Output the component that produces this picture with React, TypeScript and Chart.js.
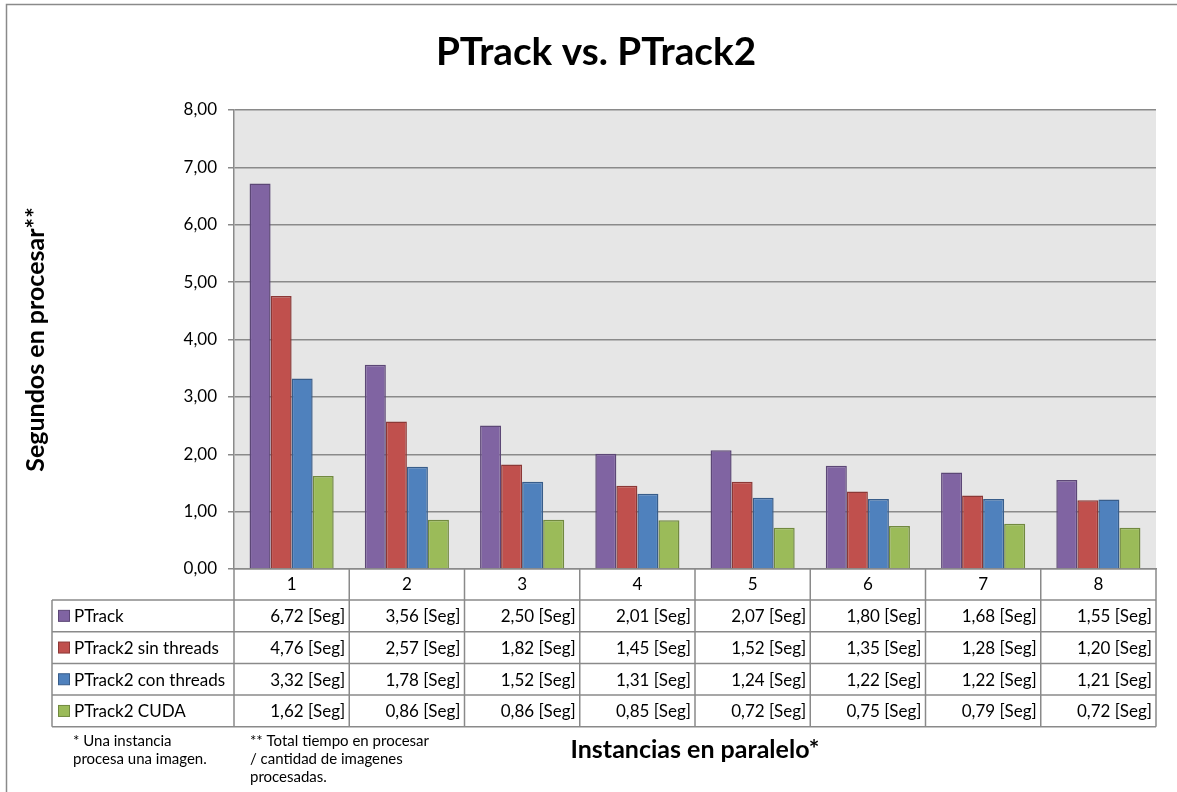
import { useEffect, useRef } from "react";
import { Chart, registerables } from "chart.js";

Chart.register(...registerables);

const categories = ["1", "2", "3", "4", "5", "6", "7", "8"];
const seriesNames = ["PTrack", "PTrack2 sin threads", "PTrack2 con threads", "PTrack2 CUDA"];
const ptrack = [6.72, 3.56, 2.5, 2.01, 2.07, 1.8, 1.68, 1.55];
const sinThreads = [4.76, 2.57, 1.82, 1.45, 1.52, 1.35, 1.28, 1.2];
const conThreads = [3.32, 1.78, 1.52, 1.31, 1.24, 1.22, 1.22, 1.21];
const cuda = [1.62, 0.86, 0.86, 0.85, 0.72, 0.75, 0.79, 0.72];
const seriesValues = [ptrack, sinThreads, conThreads, cuda];

const fills = ["#8064A2", "#C0504D", "#4F81BD", "#9BBB59"];
const edges = ["#5C4776", "#8C3836", "#385D8A", "#71893F"];

const title = "PTrack vs. PTrack2";
const yTitle = "Segundos en procesar**";
const xTitle = "Instancias en paralelo*";
const noteOne = ["* Una instancia", "procesa una imagen."];
const noteTwo = ["** Total tiempo en procesar", "/ cantidad de imagenes", "procesadas."];
const unit = "[Seg]";

const FONT = "Lato, 'Open Sans', sans-serif";
const LINE = "#8a8a8a";

const fmt = (v: number) => v.toFixed(2).replace(".", ",");

const tablePlugin = {
  id: "dataTable",
  beforeDraw(chart: any) {
    const { ctx, chartArea: a } = chart;
    ctx.save();
    ctx.fillStyle = "#ffffff";
    ctx.fillRect(0, 0, chart.width, chart.height);
    ctx.fillStyle = "#E6E6E6";
    ctx.fillRect(a.left, a.top, a.right - a.left, a.bottom - a.top);
    ctx.restore();
  },
  afterDraw(chart: any) {
    const { ctx, chartArea: a } = chart;
    const xs = chart.scales.x;
    const n = categories.length;
    const colW = (a.right - a.left) / n;
    const bounds: number[] = [];
    for (let i = 0; i <= n; i++) {
      bounds.push(i < n ? xs.getPixelForTick(i) - colW / 2 : xs.getPixelForTick(n - 1) + colW / 2);
    }
    const headerBottom = a.bottom + 31;
    const rowH = 31.7;
    const legendLeft = 52;
    const tableBottom = headerBottom + rowH * seriesNames.length;

    ctx.save();
    ctx.strokeStyle = LINE;
    ctx.lineWidth = 1.5;
    ctx.beginPath();
    // column separators through header and body
    bounds.forEach((x) => {
      ctx.moveTo(x, a.bottom);
      ctx.lineTo(x, tableBottom);
    });
    ctx.moveTo(legendLeft, headerBottom);
    ctx.lineTo(legendLeft, tableBottom);
    for (let r = 0; r <= seriesNames.length; r++) {
      const y = headerBottom + r * rowH;
      ctx.moveTo(legendLeft, y);
      ctx.lineTo(a.right, y);
    }
    ctx.stroke();

    // row contents
    ctx.font = `17px ${FONT}`;
    ctx.textBaseline = "middle";
    seriesNames.forEach((name, r) => {
      const cy = headerBottom + r * rowH + rowH / 2;
      ctx.fillStyle = fills[r];
      ctx.fillRect(58.5, cy - 5.5, 11, 11);
      ctx.strokeStyle = edges[r];
      ctx.lineWidth = 1;
      ctx.strokeRect(58.5, cy - 5.5, 11, 11);
      ctx.fillStyle = "#000";
      ctx.textAlign = "left";
      ctx.fillText(name, 74, cy + 1);
      ctx.textAlign = "right";
      seriesValues[r].forEach((v, i) => {
        ctx.fillText(`${fmt(v)} ${unit}`, bounds[i + 1] - 4, cy + 1);
      });
    });

    // chart title
    ctx.textAlign = "center";
    ctx.fillStyle = "#000";
    ctx.font = `bold 38.7px ${FONT}`;
    ctx.fillText(title, 596, 53);

    // axis titles
    ctx.font = `bold 25px ${FONT}`;
    ctx.fillText(xTitle, (a.left + a.right) / 2, 750);
    ctx.save();
    ctx.translate(36, (a.top + a.bottom) / 2);
    ctx.rotate(-Math.PI / 2);
    ctx.fillText(yTitle, 0, 0);
    ctx.restore();

    // footnotes
    ctx.font = `15px ${FONT}`;
    ctx.textAlign = "left";
    noteOne.forEach((t, i) => ctx.fillText(t, 73, 741 + i * 18));
    noteTwo.forEach((t, i) => ctx.fillText(t, 250, 741 + i * 18));

    // outer frame
    ctx.strokeStyle = "#8a8a8a";
    ctx.lineWidth = 1.5;
    ctx.beginPath();
    ctx.moveTo(6.5, chart.height);
    ctx.lineTo(6.5, 4.5);
    ctx.lineTo(chart.width, 4.5);
    ctx.stroke();
    ctx.restore();
  },
};

export default function App() {
  const ref = useRef<HTMLCanvasElement>(null);

  useEffect(() => {
    if (!ref.current) return;
    const chart = new Chart(ref.current, {
      type: "bar",
      data: {
        labels: categories,
        datasets: seriesNames.map((name, i) => ({
          label: name,
          data: seriesValues[i],
          backgroundColor: fills[i],
          borderColor: edges[i],
          borderWidth: 1.5,
          categoryPercentage: 0.73,
          barPercentage: 1,
        })),
      },
      options: {
        animation: false,
        responsive: false,
        maintainAspectRatio: false,
        layout: { padding: { left: 0, right: 21, top: 110, bottom: 0 } },
        plugins: {
          legend: { display: false },
          title: { display: false },
          tooltip: { enabled: false },
        },
        scales: {
          x: {
            grid: { display: false, drawTicks: false },
            border: { display: true, color: LINE, width: 1.5 },
            ticks: { font: { family: FONT, size: 17 }, color: "#000", padding: 5 },
            afterFit: (s: any) => {
              s.height = 223;
            },
          },
          y: {
            min: 0,
            max: 8,
            ticks: {
              stepSize: 1,
              font: { family: FONT, size: 17 },
              color: "#000",
              padding: 11,
              callback: (v: any) => fmt(Number(v)),
            },
            grid: { color: LINE, lineWidth: 1.5, tickLength: 6, drawTicks: true },
            border: { display: true, color: LINE, width: 1.5 },
            afterFit: (s: any) => {
              s.width = 234;
            },
          },
        },
      },
      plugins: [tablePlugin],
    });
    return () => chart.destroy();
  }, []);

  return (
    <div style={{ position: "absolute", left: 0, top: 0, width: 1177, height: 792 }}>
      <canvas ref={ref} width={1177} height={792} />
    </div>
  );
}
